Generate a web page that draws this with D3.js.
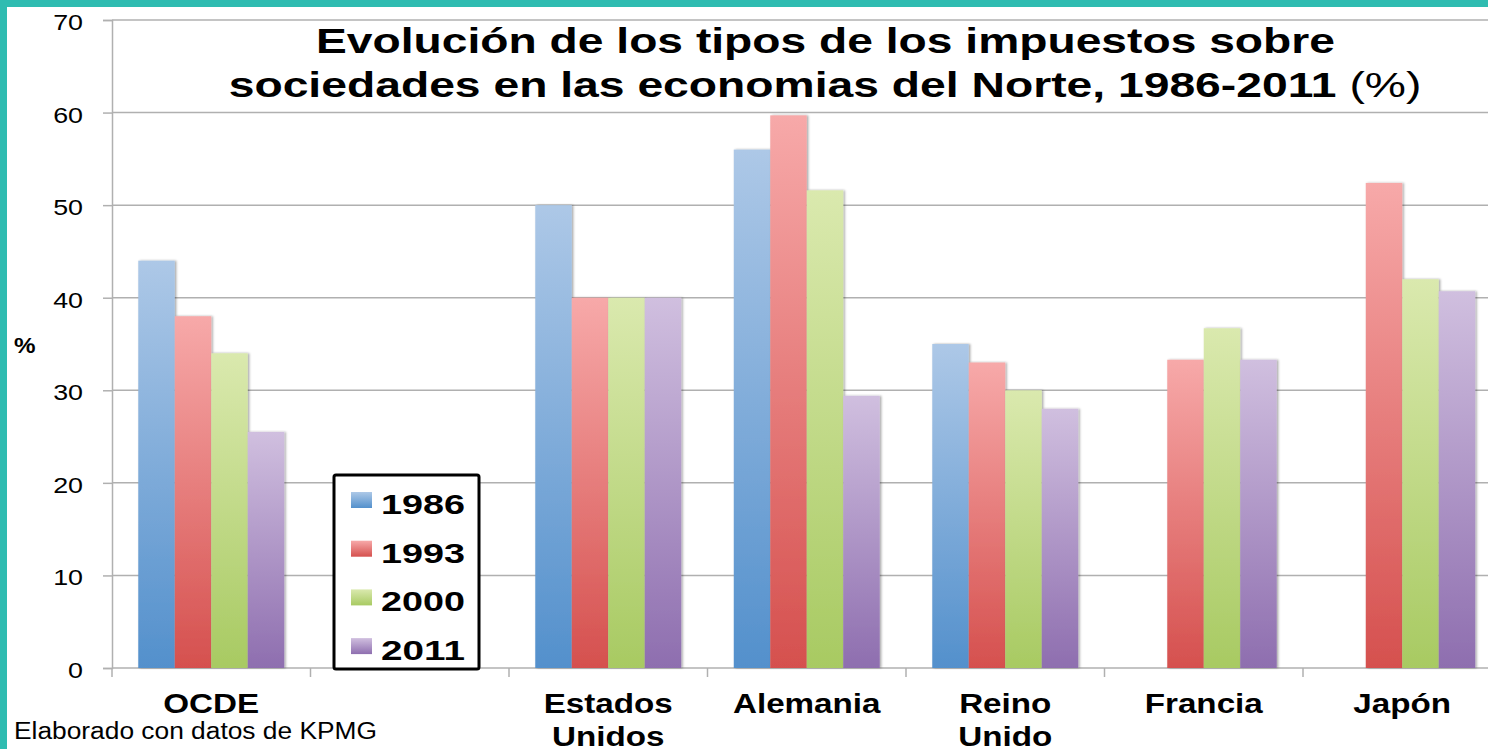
<!DOCTYPE html>
<html><head><meta charset="utf-8">
<script src="https://cdn.jsdelivr.net/npm/d3@7"></script>
<style>
html,body{margin:0;padding:0;background:#fff;overflow:hidden;}
text{font-family:"Liberation Sans",Arial,Helvetica,sans-serif;}
</style></head>
<body>
<svg id="chart" width="1488" height="749"></svg>
<script>
// ---- data ----
const categories = ["OCDE", " ", "Estados Unidos", "Alemania", "Reino Unido", "Francia", "Japón"];
const seriesNames = ["1986", "1993", "2000", "2011"];
const v1986 = [44, null, 50, 56, 35, null, null];
const v1993 = [38, null, 40, 59.7, 33, 33.3, 52.4];
const v2000 = [34, null, 40, 51.6, 30, 36.7, 42];
const v2011 = [25.5, null, 40, 29.4, 28, 33.3, 40.7];
const yTicks = [0, 10, 20, 30, 40, 50, 60, 70];
const titleLine1 = "Evolución de los tipos de los impuestos sobre";
const titleLine2 = "sociedades en las economias del Norte, 1986-2011 ";
const titleUnit = "(%)";
const yLabel = "%";
const source = "Elaborado con datos de KPMG";

const seriesValues = [v1986, v1993, v2000, v2011];
const colors = [
  ["#adc8e7", "#5390cc"],
  ["#f7a9a9", "#d5504e"],
  ["#dae9ae", "#a8ca62"],
  ["#d0bfdf", "#8e6eaf"]
];

const svg = d3.select("#chart");
const defs = svg.append("defs");
colors.forEach((c, i) => {
  const g = defs.append("linearGradient").attr("id", "grad" + i)
    .attr("x1", 0).attr("y1", 0).attr("x2", 0).attr("y2", 1);
  g.append("stop").attr("offset", "0%").attr("stop-color", c[0]);
  g.append("stop").attr("offset", "100%").attr("stop-color", c[1]);
});
const flt = defs.append("filter").attr("id", "shadow").attr("x", "-20%").attr("y", "-5%").attr("width", "140%").attr("height", "110%");
flt.append("feDropShadow").attr("dx", 1.5).attr("dy", 0).attr("stdDeviation", 1.2)
  .attr("flood-color", "#000").attr("flood-opacity", 0.35);

svg.append("rect").attr("x", 0).attr("y", 0).attr("width", 1488).attr("height", 749).attr("fill", "#fff");

const plotLeft = 112, plotTop = 20, plotBottom = 668, step = 198.5;
const x0 = d3.scaleBand().domain(categories).range([plotLeft, plotLeft + step * categories.length]).paddingInner(0).paddingOuter(0);
const x1 = d3.scaleBand().domain(seriesNames).range([0, x0.bandwidth()]).paddingInner(0).paddingOuter(0.72);
const y = d3.scaleLinear().domain([0, 70]).range([plotBottom, plotTop]);

const gridColor = "#b0b0b0";
svg.append("g").selectAll("line").data(yTicks).join("line")
  .attr("x1", plotLeft).attr("x2", 1488)
  .attr("y1", d => y(d)).attr("y2", d => y(d))
  .attr("stroke", gridColor).attr("stroke-width", 1.5);

const yAxis = svg.append("g").attr("transform", `translate(${plotLeft},0)`)
  .call(d3.axisLeft(y).tickValues(yTicks).tickSize(9).tickFormat(""));
yAxis.select(".domain").attr("stroke", gridColor).attr("stroke-width", 1.5);
yAxis.selectAll(".tick line").attr("stroke", gridColor).attr("stroke-width", 1.5);

function placeText(parent, str, x, yy, opts) {
  const t = parent.append("text")
    .attr("text-anchor", opts.anchor || "start")
    .attr("font-size", opts.size)
    .attr("font-weight", opts.weight || "normal")
    .attr("fill", opts.fill || "#000")
    .attr("transform", `translate(${x},${yy})`)
    .text(str);
  let sx = opts.sx || 1;
  if (opts.width) sx = opts.width / t.node().getComputedTextLength();
  t.attr("transform", `translate(${x},${yy}) scale(${sx},1)`);
  return t;
}

const tl = svg.append("g");
yTicks.forEach(v => placeText(tl, String(v), 83, y(v) + 10, {anchor: "end", size: 22, sx: 1.22}));

svg.append("g").selectAll("line").data(categories).join("line")
  .attr("x1", d => x0(d)).attr("x2", d => x0(d))
  .attr("y1", plotBottom).attr("y2", plotBottom + 9)
  .attr("stroke", gridColor).attr("stroke-width", 1.5);

const barData = [];
categories.forEach((c, ci) => {
  seriesNames.forEach((s, si) => {
    const v = seriesValues[si][ci];
    if (v != null) barData.push({c, s, si, v});
  });
});
svg.append("g").selectAll("rect").data(barData).join("rect")
  .attr("x", d => x0(d.c) + x1(d.s))
  .attr("y", d => y(d.v))
  .attr("width", x1.bandwidth())
  .attr("height", d => plotBottom - y(d.v))
  .attr("fill", d => `url(#grad${d.si})`)
  .attr("filter", "url(#shadow)");

const xl = svg.append("g");
categories.forEach(c => {
  const words = c.trim() ? c.split(" ") : [];
  words.forEach((w, i) => placeText(xl, w, x0(c) + x0.bandwidth() / 2, 713 + i * 33,
    {anchor: "middle", size: 27, weight: "bold", sx: 1.23}));
});

placeText(svg, yLabel, 14, 353, {size: 22, weight: "bold", sx: 1.1});

const tg = svg.append("g");
placeText(tg, titleLine1, 825.5, 53, {anchor: "middle", size: 36, weight: "bold", width: 1019});
const t2 = tg.append("text").attr("text-anchor", "middle").attr("font-size", 36)
  .attr("transform", "translate(825,97)");
t2.append("tspan").attr("font-weight", "bold").text(titleLine2);
t2.append("tspan").attr("font-weight", "normal").text(titleUnit);
t2.attr("transform", `translate(825,97) scale(${1193 / t2.node().getComputedTextLength()},1)`);

const lg = svg.append("g");
lg.append("rect").attr("x", 334).attr("y", 475).attr("width", 145).attr("height", 194)
  .attr("rx", 2).attr("fill", "#fff").attr("stroke", "#000").attr("stroke-width", 3);
seriesNames.forEach((s, i) => {
  const cy = 500 + i * 48.7;
  lg.append("rect").attr("x", 351).attr("y", cy - 8).attr("width", 21).attr("height", 16)
    .attr("fill", `url(#grad${i})`);
  placeText(lg, s, 381, cy + 14, {size: 28, weight: "bold", width: 84});
});

placeText(svg, source, 14, 739, {size: 23, width: 363});

svg.append("rect").attr("x", 0).attr("y", 0).attr("width", 7).attr("height", 749).attr("fill", "#2fbcb1");
svg.append("rect").attr("x", 0).attr("y", 0).attr("width", 1488).attr("height", 7).attr("fill", "#2fbcb1");
</script>
</body></html>
